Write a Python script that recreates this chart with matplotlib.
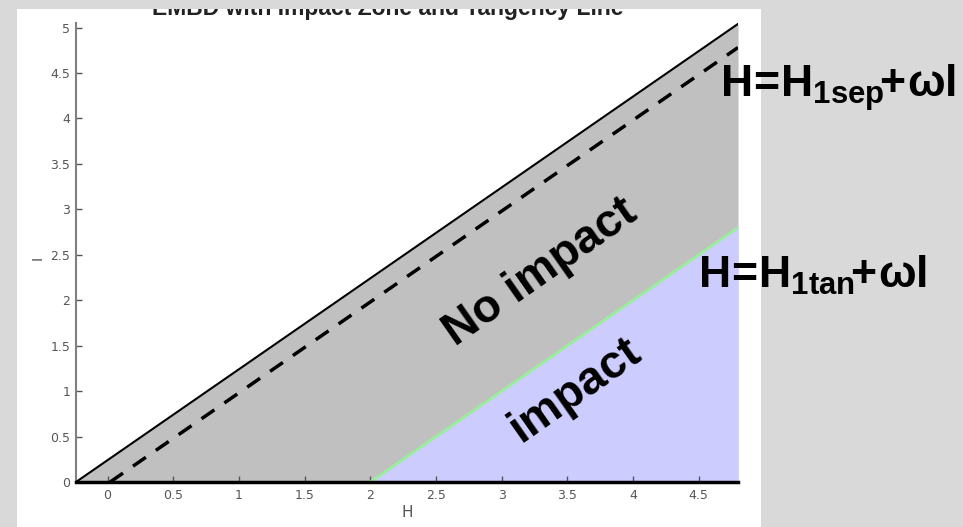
import numpy as np
import matplotlib
matplotlib.use("Agg")
import matplotlib.pyplot as plt
from matplotlib.patches import Rectangle

plt.rcParams['font.family'] = ['Liberation Sans', 'DejaVu Sans']
plt.rcParams['mathtext.fontset'] = 'custom'
plt.rcParams['mathtext.rm'] = 'Liberation Sans:bold'
plt.rcParams['mathtext.bf'] = 'Liberation Sans:bold'
plt.rcParams['mathtext.it'] = 'Liberation Sans:bold'
plt.rcParams['mathtext.sf'] = 'Liberation Sans:bold'

# Energy lines of the form H = H0 + omega * I
omega = 1.0
H_outer = -0.24   # outer boundary (solid)
H_1sep = 0.02     # separatrix (dashed)
H_1tan = 2.0      # tangency line
H_max = 4.8
I_max = 5.05

x_ticks = [0, 0.5, 1, 1.5, 2, 2.5, 3, 3.5, 4, 4.5]
y_ticks = [0, 0.5, 1, 1.5, 2, 2.5, 3, 3.5, 4, 4.5, 5]
x_ticklabels = ['0', '0.5', '1', '1.5', '2', '2.5', '3', '3.5', '4', '4.5']
y_ticklabels = ['0', '0.5', '1', '1.5', '2', '2.5', '3', '3.5', '4', '4.5', '5']

W, Hpx = 963, 527
fig = plt.figure(figsize=(W / 100, Hpx / 100), dpi=100)
fig.patch.set_facecolor('#d9d9d9')


def fx(px):
    return px / W


def fy(py):
    return 1 - py / Hpx


# white canvas panel
fig.patches.append(Rectangle((fx(17), 0), fx(761) - fx(17), fy(9), transform=fig.transFigure,
                             facecolor='white', edgecolor='none', zorder=-5))

ax = fig.add_axes([fx(76), fy(482), fx(738) - fx(76), fy(23) - fy(482)])
ax.set_facecolor('none')


def line_I(H, H0):
    return (H - H0) / omega


H_grid = np.linspace(H_outer, H_max, 400)
ax.fill_between(H_grid, 0, line_I(H_grid, H_outer), color='#c0c0c0', lw=0, zorder=1)
H_imp = np.linspace(H_1tan, H_max, 400)
ax.fill_between(H_imp, 0, line_I(H_imp, H_1tan), color='#ccccff', lw=0, zorder=1.2)

ax.plot(H_grid, line_I(H_grid, H_outer), color='black', lw=1.5, zorder=3)
H_sep_grid = np.linspace(H_1sep, H_max, 400)
ax.plot(H_sep_grid, line_I(H_sep_grid, H_1sep), color='black', lw=2.5,
        dashes=(4.5, 3.5), zorder=3)
ax.plot(H_imp, line_I(H_imp, H_1tan), color='#99ee99', lw=2, zorder=3)

ax.set_xlim(H_outer, H_max)
ax.set_ylim(0, I_max)
ax.set_xticks(x_ticks)
ax.set_xticklabels(x_ticklabels)
ax.set_yticks(y_ticks)
ax.set_yticklabels(y_ticklabels)

for s in ['top', 'right']:
    ax.spines[s].set_visible(False)
ax.spines['left'].set_color('#808080')
ax.spines['left'].set_linewidth(1.5)
ax.spines['bottom'].set_color('black')
ax.spines['bottom'].set_linewidth(2.5)
ax.spines['bottom'].set_zorder(4)

ax.tick_params(axis='both', direction='in', length=4, width=1, color='#555555',
               labelcolor='#555555', labelsize=9)
ax.tick_params(axis='x', pad=5)
ax.tick_params(axis='y', pad=4)
for lbl in ax.get_xticklabels() + ax.get_yticklabels():
    lbl.set_family('DejaVu Sans')

ax.set_xlabel('H', fontsize=11, color='#555555', family='DejaVu Sans')
ax.xaxis.set_label_coords(0.5, -0.05)
ax.set_ylabel('I', fontsize=11, color='#555555')
ax.yaxis.set_label_coords(-0.047, 0.488)

ax.text(3.30, 2.31, 'No impact', fontsize=33.5, fontweight='bold', rotation=35,
        rotation_mode='anchor', ha='center', va='center', zorder=5)
ax.text(3.56, 1.01, 'impact', fontsize=33.5, fontweight='bold', rotation=35,
        rotation_mode='anchor', ha='center', va='center', zorder=5)

# title, partly hidden under the top border strip
fig.text(fx(388), fy(15), 'EMBD with Impact Zone and Tangency Line', fontsize=16.5,
         fontweight='bold', color='#222222', ha='center', va='baseline', zorder=1)
fig.patches.append(Rectangle((0, fy(9)), 1, 1 - fy(9), transform=fig.transFigure,
                             facecolor='#d9d9d9', edgecolor='none', zorder=2))

fig.text(fx(720), fy(97), r'$H\!=\!H_{1sep}\!\!+\!\omega l$', fontsize=32,
         ha='left', va='baseline', zorder=10)
fig.text(fx(698), fy(288), r'$H\!=\!H_{1tan}\!\!+\!\omega l$', fontsize=32,
         ha='left', va='baseline', zorder=10)

fig.savefig('out.png', dpi=100, facecolor=fig.get_facecolor())
